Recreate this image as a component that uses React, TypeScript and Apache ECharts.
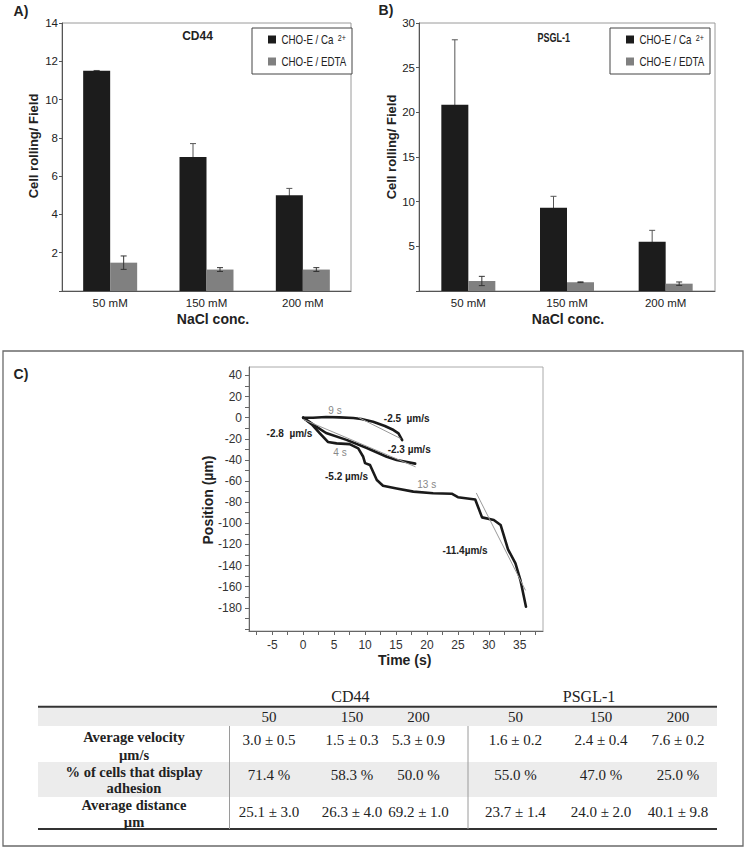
import React, { useEffect, useRef } from 'react';
import * as echarts from 'echarts';

// ---------- Data ----------
const categories = ['50 mM', '150 mM', '200 mM'];
const seriesNames = ['CHO-E / Ca 2+', 'CHO-E / EDTA'];

const cd44Ca = [11.5, 7.0, 5.0];
const cd44CaErr = [0.02, 0.7, 0.36];
const cd44Edta = [1.48, 1.12, 1.12];
const cd44EdtaErr = [0.35, 0.1, 0.1];

const psglCa = [20.85, 9.33, 5.52];
const psglCaErr = [7.27, 1.27, 1.27];
const psglEdta = [1.12, 0.98, 0.82];
const psglEdtaErr = [0.52, 0.04, 0.19];

const cd44Ticks = [0, 2, 4, 6, 8, 10, 12, 14];
const psglTicks = [0, 5, 10, 15, 20, 25, 30];

// Panel C trajectories: [time (s), position (µm)]
const traj1 = [[0, 0], [1.6, 0], [3.7, 0.6], [5.9, 0.3], [8.1, -0.3], [9.4, -1.3], [11.3, -3.8], [13.2, -7.9], [14.6, -11.7], [15.4, -14.8], [16, -21.2]];
const traj2 = [[0, 0], [2, -8], [3.7, -14.5], [7, -21], [10.2, -28.5], [13.5, -37], [15.1, -40], [18.1, -43.5]];
const traj3 = [[0, 0], [1.5, -7], [2.7, -14.8], [4, -23], [5.4, -24.3], [7.5, -25], [8.9, -29], [9.7, -37], [10, -43], [10.8, -44.8], [11.9, -59], [12.9, -64.4], [15.1, -67], [17.8, -70], [21, -71.5], [24, -72], [25, -75.3], [27.8, -77.4], [28.9, -94.4], [30.8, -96.9], [31.9, -101.6], [33.1, -124.7], [34.3, -138], [35.1, -153.8], [36, -179]];
const fit1 = [[8.9, 0.3], [15.7, -19.6]];
const fit2 = [[0, -1.6], [18.1, -46.4]];
const fit3 = [[28, -71.6], [35.9, -163.2]];

const timeLabels = [-5, 0, 5, 10, 15, 20, 25, 30, 35];
const timeTicks = [-7.5, -5, -2.5, 0, 2.5, 5, 7.5, 10, 12.5, 15, 17.5, 20, 22.5, 25, 27.5, 30, 32.5, 35, 37.5];
const posLabels = [40, 20, 0, -20, -40, -60, -80, -100, -120, -140, -160, -180];
const posTicks = [40, 30, 20, 10, 0, -10, -20, -30, -40, -50, -60, -70, -80, -90, -100, -110, -120, -130, -140, -150, -160, -170, -180, -190, -200];

// Annotations of panel C
const speedLabels = ['-2.5  µm/s', '-2.8  µm/s', '-2.3 µm/s', '-5.2 µm/s', '-11.4µm/s'];
const durationLabels = ['9 s', '4 s', '13 s'];

// Table
const tableGroups = ['CD44', 'PSGL-1'];
const tableConc = ['50', '150', '200', '50', '150', '200'];
const rowLabels = [['Average velocity', 'µm/s'], ['% of cells that display', 'adhesion'], ['Average distance', 'µm']];
const velocityRow = ['3.0 ± 0.5', '1.5 ± 0.3', '5.3 ± 0.9', '1.6 ± 0.2', '2.4 ± 0.4', '7.6 ± 0.2'];
const adhesionRow = ['71.4 %', '58.3 %', '50.0 %', '55.0 %', '47.0 %', '25.0 %'];
const distanceRow = ['25.1 ± 3.0', '26.3 ± 4.0', '69.2 ± 1.0', '23.7 ± 1.4', '24.0 ± 2.0', '40.1 ± 9.8'];

// ---------- Styles ----------
const SANS = "'Liberation Sans', Arial, sans-serif";
const SERIF = "'Liberation Serif', 'Times New Roman', serif";
const BLACK = '#1c1c1c';
const GRAY = '#808080';
const seriesColors = [BLACK, GRAY];

function errorBars(name: string, axis: number, values: number[], errs: number[], offset: number, color: string, z: number) {
  return {
    type: 'custom',
    name,
    xAxisIndex: axis,
    yAxisIndex: axis,
    z,
    silent: true,
    data: values.map((v, i) => [i, v, errs[i]]),
    encode: { x: 0, y: 1 },
    renderItem: (_params: any, api: any) => {
      const i = api.value(0);
      const v = api.value(1);
      const e = api.value(2);
      const c = api.coord([i, v]);
      const hi = api.coord([i, v + e]);
      const lo = api.coord([i, v - e]);
      const x = c[0] + offset;
      const cap = 3;
      const st = { stroke: color, lineWidth: 1 };
      return {
        type: 'group',
        children: [
          { type: 'line', shape: { x1: x, y1: hi[1], x2: x, y2: lo[1] }, style: st },
          { type: 'line', shape: { x1: x - cap, y1: hi[1], x2: x + cap, y2: hi[1] }, style: st },
          { type: 'line', shape: { x1: x - cap, y1: lo[1], x2: x + cap, y2: lo[1] }, style: st },
        ],
      };
    },
  };
}

function txt(text: string, x: number, y: number, font: string, fill = '#222', extra: any = {}) {
  const { align = 'center', rich, ...rest } = extra;
  return {
    type: 'text',
    silent: true,
    x,
    y,
    ...rest,
    style: {
      text,
      x: 0,
      y: 0,
      font,
      fill,
      textAlign: align,
      textVerticalAlign: 'middle',
      ...(rich ? { rich } : {}),
    },
  };
}

function catXAxis(gridIndex: number) {
  return {
    gridIndex,
    type: 'category',
    data: categories,
    axisLine: { lineStyle: { color: '#555', width: 1 } },
    axisTick: { length: 4, lineStyle: { color: '#555' } },
    axisLabel: { margin: 6, fontFamily: SANS, fontSize: 11.5, color: '#222' },
    splitLine: { show: false },
  };
}

function valYAxis(gridIndex: number, ticks: number[]) {
  const step = ticks[1] - ticks[0];
  return {
    gridIndex,
    type: 'value',
    min: ticks[0],
    max: ticks[ticks.length - 1],
    interval: step,
    axisLine: { show: true, lineStyle: { color: '#555', width: 1 } },
    axisTick: { show: true, length: 3, lineStyle: { color: '#555' } },
    axisLabel: {
      margin: 4,
      fontFamily: SANS,
      fontSize: 11.5,
      color: '#222',
      formatter: (v: number) => (v === 0 ? '' : String(v)),
    },
    splitLine: { show: false },
  };
}

// Legend box drawn like the original (narrow font imitated by horizontal scaling)
function legendBox(left: number, top: number) {
  const rowY = [11.5, 33.5];
  const children: any[] = [
    { type: 'rect', silent: true, shape: { x: 0, y: 0, width: 100, height: 46 }, style: { fill: '#fff', stroke: '#444', lineWidth: 1 } },
  ];
  seriesNames.forEach((name, i) => {
    children.push({ type: 'rect', silent: true, shape: { x: 16, y: rowY[i] - 4, width: 8, height: 8 }, style: { fill: seriesColors[i] } });
    const isCa = i === 0;
    children.push(
      txt(isCa ? 'CHO-E / Ca {sup|2+}' : name, 29.5, rowY[i], `13px ${SANS}`, '#222', {
        align: 'left',
        scaleX: 0.75,
        rich: isCa ? { sup: { fontSize: 9.5, fontFamily: SANS, verticalAlign: 'top', fill: '#222', padding: [0, 0, 3, 2] } } : undefined,
      })
    );
  });
  return { type: 'group', x: left, y: top, z: 10, children };
}

function buildTable() {
  const els: any[] = [];
  const left = 38;
  const right = 717;
  const colX = [269, 352, 418.5, 515.4, 601, 678];
  const groupX = [350.4, 589];
  const rowTops = [726, 762, 797, 829];
  els.push({ type: 'rect', silent: true, shape: { x: left, y: 707.5, width: right - left, height: 726 - 707.5 }, style: { fill: '#ececec' } });
  els.push({ type: 'rect', silent: true, shape: { x: left, y: rowTops[1], width: right - left, height: rowTops[2] - rowTops[1] }, style: { fill: '#ececec' } });
  els.push({ type: 'line', silent: true, shape: { x1: left, y1: 706.7, x2: right, y2: 706.7 }, style: { stroke: '#333', lineWidth: 2 } });
  els.push({ type: 'line', silent: true, shape: { x1: left, y1: 829, x2: right, y2: 829 }, style: { stroke: '#333', lineWidth: 2 } });
  [229.5, 468].forEach((x) =>
    els.push({ type: 'line', silent: true, shape: { x1: x, y1: rowTops[0], x2: x, y2: rowTops[3] }, style: { stroke: '#9a9a9a', lineWidth: 1 } })
  );
  tableGroups.forEach((g, i) => els.push(txt(g, groupX[i], 696.7, `16px ${SERIF}`)));
  tableConc.forEach((c, i) => els.push(txt(c, colX[i], 716.7, `15px ${SERIF}`)));
  const labelY = [[736.7, 755], [771.7, 788.3], [805, 821.7]];
  rowLabels.forEach((lines, r) => lines.forEach((l, k) => els.push(txt(l, 134, labelY[r][k], `bold 14.5px ${SERIF}`))));
  const valY = [740, 775, 811.7];
  [velocityRow, adhesionRow, distanceRow].forEach((row, r) =>
    row.forEach((v, i) => els.push(txt(v, colX[i], valY[r], `15px ${SERIF}`)))
  );
  return els;
}

export default function App() {
  const ref = useRef<HTMLDivElement>(null);

  useEffect(() => {
    if (!ref.current) return;
    const chart = echarts.init(ref.current, null, { renderer: 'svg' });

    const lineSeries = (data: number[][], color: string, width: number, z: number) => ({
      type: 'line',
      xAxisIndex: 2,
      yAxisIndex: 2,
      data,
      showSymbol: false,
      symbol: 'none',
      silent: true,
      z,
      lineStyle: { color, width, join: 'round', cap: 'round' },
    });

    const option: any = {
      animation: false,
      backgroundColor: '#fff',
      grid: [
        { left: 62, top: 23, width: 289, height: 268, show: true, borderColor: '#9a9a9a', borderWidth: 1, backgroundColor: 'transparent' },
        { left: 419, top: 23, width: 296, height: 268, show: true, borderColor: '#9a9a9a', borderWidth: 1, backgroundColor: 'transparent' },
        { left: 249, top: 367, width: 294, height: 264, show: true, borderColor: '#aaa', borderWidth: 1, backgroundColor: 'transparent' },
      ],
      xAxis: [
        catXAxis(0),
        catXAxis(1),
        {
          gridIndex: 2,
          type: 'value',
          min: -8.75,
          max: 38.75,
          axisLine: { show: true, onZero: false, lineStyle: { color: '#666' } },
          axisTick: { show: true, length: 4, customValues: timeTicks, lineStyle: { color: '#666' } },
          axisLabel: { customValues: timeLabels, margin: 8, fontFamily: SANS, fontSize: 12, color: '#333' },
          splitLine: { show: false },
        },
      ],
      yAxis: [
        valYAxis(0, cd44Ticks),
        valYAxis(1, psglTicks),
        {
          gridIndex: 2,
          type: 'value',
          min: -202,
          max: 48,
          axisLine: { show: true, onZero: false, lineStyle: { color: '#666' } },
          axisTick: { show: true, length: 4, customValues: posTicks, lineStyle: { color: '#666' } },
          axisLabel: { customValues: posLabels, margin: 7, fontFamily: SANS, fontSize: 12, color: '#333' },
          splitLine: { show: false },
        },
      ],
      series: [
        { type: 'bar', name: seriesNames[0], xAxisIndex: 0, yAxisIndex: 0, data: cd44Ca, barWidth: 27, barGap: '0%', itemStyle: { color: BLACK }, z: 2, silent: true },
        { type: 'bar', name: seriesNames[1], xAxisIndex: 0, yAxisIndex: 0, data: cd44Edta, barWidth: 27, barGap: '0%', itemStyle: { color: GRAY }, z: 2, silent: true },
        errorBars('cd44 ca err', 0, cd44Ca, cd44CaErr, -13.5, '#555', 1),
        errorBars('cd44 edta err', 0, cd44Edta, cd44EdtaErr, 13.5, '#333', 3),
        { type: 'bar', name: seriesNames[0], xAxisIndex: 1, yAxisIndex: 1, data: psglCa, barWidth: 27, barGap: '0%', itemStyle: { color: BLACK }, z: 2, silent: true },
        { type: 'bar', name: seriesNames[1], xAxisIndex: 1, yAxisIndex: 1, data: psglEdta, barWidth: 27, barGap: '0%', itemStyle: { color: GRAY }, z: 2, silent: true },
        errorBars('psgl ca err', 1, psglCa, psglCaErr, -13.5, '#555', 1),
        errorBars('psgl edta err', 1, psglEdta, psglEdtaErr, 13.5, '#333', 3),
        lineSeries(traj1, '#1a1a1a', 2.6, 3),
        lineSeries(traj2, '#1a1a1a', 2.6, 3),
        lineSeries(traj3, '#1a1a1a', 2.6, 3),
        lineSeries(fit1, '#9a9a9a', 1, 4),
        lineSeries(fit2, '#9a9a9a', 1, 4),
        lineSeries(fit3, '#9a9a9a', 1, 4),
      ],
      graphic: [
        { type: 'rect', silent: true, shape: { x: 3, y: 351, width: 740, height: 495 }, style: { fill: 'none', stroke: '#6a6a6a', lineWidth: 1.3 }, z: 0 },
        legendBox(252, 28),
        legendBox(610, 28),
        txt('A)', 21, 11, `bold 14px ${SANS}`),
        txt('B)', 386, 10, `bold 14px ${SANS}`),
        txt('C)', 21, 374, `bold 14px ${SANS}`),
        txt('CD44', 197.5, 36, `bold 12px ${SANS}`),
        txt('PSGL-1', 553.7, 37, `bold 12px ${SANS}`, '#222', { scaleX: 0.75 }),
        txt('Cell rolling/ Field', 33.3, 146, `bold 13px ${SANS}`, '#222', { rotation: Math.PI / 2 }),
        txt('Cell rolling/ Field', 391, 147, `bold 13px ${SANS}`, '#222', { rotation: Math.PI / 2 }),
        txt('NaCl conc.', 213, 319.3, `bold 14px ${SANS}`),
        txt('NaCl conc.', 568, 319.3, `bold 14px ${SANS}`),
        txt('Position (µm)', 208.3, 500, `bold 14px ${SANS}`, '#222', { rotation: Math.PI / 2 }),
        txt('Time (s)', 404.7, 660, `bold 14px ${SANS}`),
        txt(durationLabels[0], 335, 410, `10px ${SANS}`, '#888'),
        txt(durationLabels[1], 340, 452.3, `10px ${SANS}`, '#888'),
        txt(durationLabels[2], 426.7, 484.3, `10px ${SANS}`, '#888'),
        txt(speedLabels[0], 406.7, 418.3, `bold 10px ${SANS}`),
        txt(speedLabels[1], 289.5, 433.3, `bold 10px ${SANS}`),
        txt(speedLabels[2], 409.2, 449.3, `bold 10px ${SANS}`),
        txt(speedLabels[3], 346.5, 476.7, `bold 10px ${SANS}`),
        txt(speedLabels[4], 465, 550, `bold 10px ${SANS}`),
        ...buildTable(),
      ],
    };

    chart.setOption(option);
    return () => chart.dispose();
  }, []);

  return (
    <div
      ref={ref}
      style={{ position: 'fixed', left: 0, top: 0, width: 745, height: 847, background: '#fff' }}
    />
  );
}
